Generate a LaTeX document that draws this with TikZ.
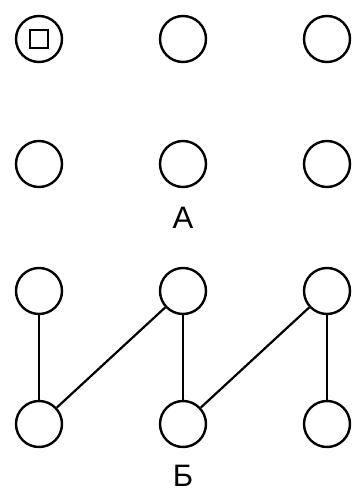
\documentclass[tikz,border=0pt]{standalone}
\usepackage{fontspec}
\setmainfont{Liberation Sans}
\begin{document}
\begin{tikzpicture}[x=1pt,y=-1pt,
  cell/.style={circle,draw=black,line width=2.4pt,minimum size=46pt,inner sep=0pt},
  link/.style={line width=2.2pt},
  lab/.style={font=\fontsize{31}{31}\selectfont,inner sep=0pt}]
\useasboundingbox (0,0) rectangle (352,492);
% top diagram
\node[cell] (a1) at (39,39) {};
\node[draw=black,line width=2.4pt,minimum size=18pt,inner sep=0pt] (sq) at (a1) {};
\node[cell] (a2) at (183,39) {};
\node[cell] (a3) at (327,39) {};
\node[cell] (a4) at (39,164) {};
\node[cell] (a5) at (183,164) {};
\node[cell] (a6) at (327,164) {};
\node[lab] (A) at (183,218) {А};
% bottom diagram
\node[cell] (b1) at (39,291) {};
\node[cell] (b2) at (183,291) {};
\node[cell] (b3) at (327,291) {};
\node[cell] (b4) at (39,424) {};
\node[cell] (b5) at (183,424) {};
\node[cell] (b6) at (327,424) {};
\node[lab] (B) at (183,476) {Б};
\draw[link] (b1) -- (b4);
\draw[link] (b4) -- (b2);
\draw[link] (b2) -- (b5);
\draw[link] (b5) -- (b3);
\draw[link] (b3) -- (b6);
\end{tikzpicture}
\end{document}
